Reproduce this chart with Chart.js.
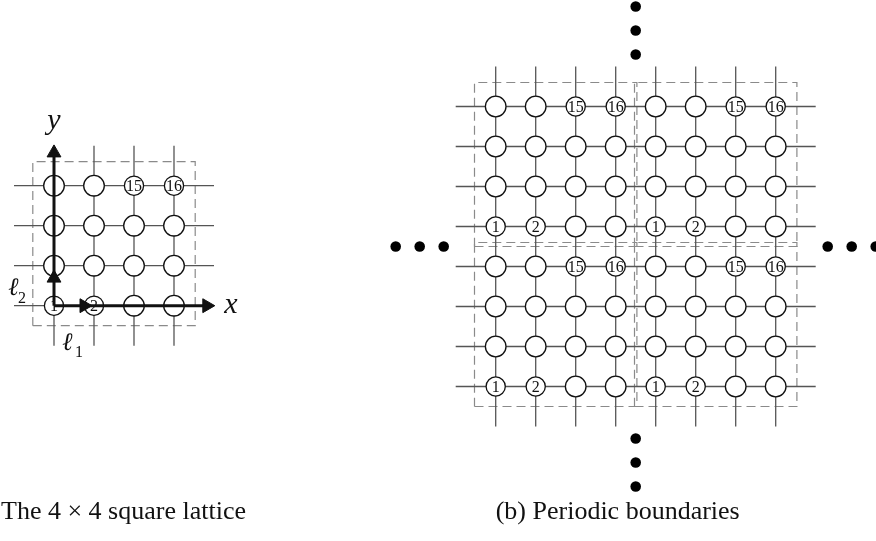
<!DOCTYPE html>
<html>
<head>
<meta charset="utf-8">
<script src="https://cdn.jsdelivr.net/npm/chart.js@4.4.0/dist/chart.umd.min.js"></script>
<style>
  html, body { margin: 0; padding: 0; background: #fff; }
  #wrap { width: 876px; height: 541px; }
</style>
</head>
<body>
<div id="wrap"><canvas id="lattice" width="876" height="541"></canvas></div>
<script>
// sites per side
var smallSize = 4;
var bigSize = 8;
var cellSize = 4;

// labels of the sites of one 4x4 cell, index = row * 4 + col (row 0 at the bottom)
var siteLabels = ["1", "2", "", "", "", "", "", "", "", "", "", "", "", "", "15", "16"];

// lattice bond overhang past the outer sites, and dashed cell box edges (lattice units)
var bondOverhang = 1;
var boxX = [-0.53, 3.53];
var boxY = [-0.5, 3.6];

// basis vector arrows: tip of the axis arrow, tip of the middle arrow head
var axisTip = 4.02;
var midTipX = 0.95;
var midTipY = 0.89;

// ellipsis dots, distance from the centre of the periodic lattice
var dotDistances = [4.8, 5.4, 6.0];

var axisNames = ["x", "y"];
var vectorNames = ["\u2113", "1", "\u2113", "2"];
var captions = ["The 4 \u00d7 4 square lattice", "(b) Periodic boundaries"];

// layout: 1 lattice unit = 40px, origins of the two lattices
var unit = 40;
var leftOrigin = { x: 54 / unit, y: (541 - 305.7) / unit };
var rightOrigin = { x: 495.7 / unit, y: (541 - 386.5) / unit };

var serif = "'Liberation Serif', 'DejaVu Serif', serif";
var datasets = [];

function segment(x1, y1, x2, y2, color, width, dash, order) {
  datasets.push({
    data: [{ x: x1, y: y1 }, { x: x2, y: y2 }],
    showLine: true,
    borderColor: color,
    borderWidth: width,
    borderDash: dash || [],
    pointRadius: 0,
    fill: false,
    order: order,
  });
}

function addLattice(o, n) {
  // bonds
  for (var i = 0; i < n; i++) {
    segment(o.x - bondOverhang, o.y + i, o.x + n - 1 + bondOverhang, o.y + i, "#555", 1.3, null, 6);
    segment(o.x + i, o.y - bondOverhang, o.x + i, o.y + n - 1 + bondOverhang, "#555", 1.3, null, 6);
  }

  // dashed boxes, one per 4x4 cell
  for (var bx = 0; bx < n / cellSize; bx++) {
    for (var by = 0; by < n / cellSize; by++) {
      var x0 = o.x + bx * cellSize;
      var y0 = o.y + by * cellSize;
      datasets.push({
        data: [
          { x: x0 + boxX[0], y: y0 + boxY[0] },
          { x: x0 + boxX[1], y: y0 + boxY[0] },
          { x: x0 + boxX[1], y: y0 + boxY[1] },
          { x: x0 + boxX[0], y: y0 + boxY[1] },
          { x: x0 + boxX[0], y: y0 + boxY[0] },
        ],
        showLine: true,
        borderColor: "#8a8a8a",
        borderWidth: 1.2,
        borderDash: [9, 5],
        pointRadius: 0,
        fill: false,
        order: 7,
      });
    }
  }

  // sites
  var sites = [];
  for (var row = 0; row < n; row++) {
    for (var col = 0; col < n; col++) {
      sites.push({
        x: o.x + col,
        y: o.y + row,
        label: siteLabels[(row % cellSize) * cellSize + (col % cellSize)],
      });
    }
  }
  datasets.push({
    data: sites,
    showLine: false,
    pointRadius: function (ctx) {
      return ctx.raw && ctx.raw.label ? 9.6 : 10.3;
    },
    pointBackgroundColor: "#fff",
    pointBorderColor: "#111",
    pointBorderWidth: 1.3,
    siteLayer: true,
    order: 5,
  });
}

addLattice(leftOrigin, smallSize);
addLattice(rightOrigin, bigSize);

// basis vector arrows on the small lattice
var headR = 8 / unit;
segment(leftOrigin.x, leftOrigin.y, leftOrigin.x + axisTip - headR, leftOrigin.y, "#111", 3, null, 3);
segment(leftOrigin.x, leftOrigin.y, leftOrigin.x, leftOrigin.y + axisTip - headR, "#111", 3, null, 3);
datasets.push({
  data: [
    { x: leftOrigin.x + axisTip - headR, y: leftOrigin.y },
    { x: leftOrigin.x + midTipX - headR, y: leftOrigin.y },
  ],
  showLine: false,
  pointStyle: "triangle",
  pointRotation: 90,
  pointRadius: 8,
  pointBackgroundColor: "#111",
  pointBorderColor: "#111",
  pointBorderWidth: 1,
  order: 2,
});
datasets.push({
  data: [
    { x: leftOrigin.x, y: leftOrigin.y + axisTip - headR },
    { x: leftOrigin.x, y: leftOrigin.y + midTipY - headR },
  ],
  showLine: false,
  pointStyle: "triangle",
  pointRotation: 0,
  pointRadius: 8,
  pointBackgroundColor: "#111",
  pointBorderColor: "#111",
  pointBorderWidth: 1,
  order: 2,
});

// ellipsis dots round the periodic lattice
var centre = { x: rightOrigin.x + (bigSize - 1) / 2, y: rightOrigin.y + (bigSize - 1) / 2 };
var dots = [];
for (var d of dotDistances) {
  dots.push({ x: centre.x, y: centre.y + d });
  dots.push({ x: centre.x, y: centre.y - d });
  dots.push({ x: centre.x - d, y: centre.y });
  dots.push({ x: centre.x + d, y: centre.y });
}
datasets.push({
  data: dots,
  showLine: false,
  pointRadius: 5.3,
  pointBackgroundColor: "#000",
  pointBorderWidth: 0,
  order: 1,
});

var labelPlugin = {
  id: "labels",
  afterDatasetDraw: function (chart, args) {
    var ds = chart.data.datasets[args.index];
    if (!ds.siteLayer) return;
    var ctx = chart.ctx;
    ctx.save();
    ctx.fillStyle = "#111";
    ctx.font = "16px " + serif;
    ctx.textAlign = "center";
    ctx.textBaseline = "middle";
    args.meta.data.forEach(function (pt, i) {
      var label = ds.data[i].label;
      if (label) ctx.fillText(label, pt.x, pt.y + 1);
    });
    ctx.restore();
  },
  afterDraw: function (chart) {
    var ctx = chart.ctx;
    var xs = chart.scales.x;
    var ys = chart.scales.y;
    var ox = xs.getPixelForValue(leftOrigin.x);
    var oy = ys.getPixelForValue(leftOrigin.y);
    ctx.save();
    ctx.fillStyle = "#111";
    ctx.textBaseline = "alphabetic";

    // axis names
    ctx.font = "italic 30px " + serif;
    ctx.textAlign = "center";
    ctx.fillText(axisNames[0], xs.getPixelForValue(leftOrigin.x + axisTip) + 16, oy + 7);
    ctx.fillText(axisNames[1], ox, ys.getPixelForValue(leftOrigin.y + axisTip) - 16);

    // basis vector names
    ctx.textAlign = "left";
    ctx.font = "italic 25px " + serif;
    ctx.fillText(vectorNames[0], ox + 8, oy + 44);
    ctx.fillText(vectorNames[2], ox - 46, oy - 11);
    ctx.font = "16px " + serif;
    ctx.fillText(vectorNames[1], ox + 21, oy + 51);
    ctx.fillText(vectorNames[3], ox - 36, oy - 3);

    // captions
    ctx.font = "26px " + serif;
    ctx.textAlign = "left";
    ctx.fillText(captions[0], 1, 519);
    ctx.textAlign = "center";
    ctx.fillText(captions[1], xs.getPixelForValue(centre.x) - 18, 519);
    ctx.restore();
  },
};

new Chart(document.getElementById("lattice"), {
  type: "scatter",
  data: { datasets: datasets },
  options: {
    responsive: false,
    animation: false,
    events: [],
    layout: { padding: 0, autoPadding: false },
    plugins: {
      legend: { display: false },
      tooltip: { enabled: false },
    },
    scales: {
      x: { type: "linear", min: 0, max: 876 / unit, display: false },
      y: { type: "linear", min: 0, max: 541 / unit, display: false },
    },
  },
  plugins: [labelPlugin],
});
</script>
</body>
</html>
